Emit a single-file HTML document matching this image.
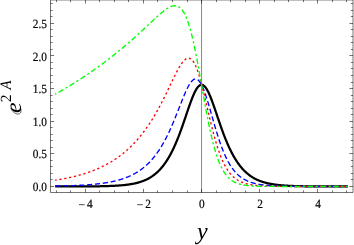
<!DOCTYPE html>
<html><head><meta charset="utf-8"><title>plot</title>
<style>
html,body{margin:0;padding:0;background:#fff;}
body{width:354px;height:245px;overflow:hidden;font-family:"Liberation Serif",serif;}
svg{display:block;will-change:transform;}
text{font-family:"Liberation Serif",serif;fill:#000;text-rendering:geometricPrecision;}
</style></head><body>
<svg width="354" height="245" viewBox="0 0 354 245">
<rect x="0" y="0" width="354" height="245" fill="#fff"/>

<line x1="201.55" y1="-0.05" x2="201.55" y2="192.5" stroke="#000" stroke-width="0.55" stroke-opacity="0.85"/>
<g fill="none" stroke-linejoin="round">
<path d="M55.18,186.49 L55.67,186.49 L56.16,186.49 L56.65,186.49 L57.14,186.49 L57.63,186.49 L58.11,186.49 L58.60,186.49 L59.09,186.49 L59.58,186.49 L60.07,186.49 L60.56,186.49 L61.05,186.49 L61.54,186.49 L62.02,186.48 L62.51,186.48 L63.00,186.48 L63.49,186.48 L63.98,186.48 L64.47,186.48 L64.96,186.48 L65.45,186.48 L65.93,186.48 L66.42,186.48 L66.91,186.48 L67.40,186.48 L67.89,186.48 L68.38,186.48 L68.87,186.47 L69.36,186.47 L69.84,186.47 L70.33,186.47 L70.82,186.47 L71.31,186.47 L71.80,186.47 L72.29,186.47 L72.78,186.47 L73.26,186.47 L73.75,186.46 L74.24,186.46 L74.73,186.46 L75.22,186.46 L75.71,186.46 L76.20,186.46 L76.69,186.46 L77.17,186.45 L77.66,186.45 L78.15,186.45 L78.64,186.45 L79.13,186.45 L79.62,186.44 L80.11,186.44 L80.60,186.44 L81.08,186.44 L81.57,186.44 L82.06,186.43 L82.55,186.43 L83.04,186.43 L83.53,186.43 L84.02,186.42 L84.50,186.42 L84.99,186.42 L85.48,186.41 L85.97,186.41 L86.46,186.41 L86.95,186.40 L87.44,186.40 L87.93,186.40 L88.41,186.39 L88.90,186.39 L89.39,186.39 L89.88,186.38 L90.37,186.38 L90.86,186.37 L91.35,186.37 L91.84,186.36 L92.32,186.36 L92.81,186.35 L93.30,186.35 L93.79,186.34 L94.28,186.34 L94.77,186.33 L95.26,186.32 L95.75,186.32 L96.23,186.31 L96.72,186.30 L97.21,186.30 L97.70,186.29 L98.19,186.28 L98.68,186.27 L99.17,186.27 L99.65,186.26 L100.14,186.25 L100.63,186.24 L101.12,186.23 L101.61,186.22 L102.10,186.21 L102.59,186.20 L103.08,186.19 L103.56,186.18 L104.05,186.17 L104.54,186.15 L105.03,186.14 L105.52,186.13 L106.01,186.11 L106.50,186.10 L106.99,186.09 L107.47,186.07 L107.96,186.05 L108.45,186.04 L108.94,186.02 L109.43,186.00 L109.92,185.99 L110.41,185.97 L110.90,185.95 L111.38,185.93 L111.87,185.91 L112.36,185.89 L112.85,185.86 L113.34,185.84 L113.83,185.82 L114.32,185.79 L114.80,185.77 L115.29,185.74 L115.78,185.71 L116.27,185.68 L116.76,185.65 L117.25,185.62 L117.74,185.59 L118.23,185.56 L118.71,185.52 L119.20,185.49 L119.69,185.45 L120.18,185.41 L120.67,185.37 L121.16,185.33 L121.65,185.29 L122.14,185.25 L122.62,185.20 L123.11,185.16 L123.60,185.11 L124.09,185.06 L124.58,185.01 L125.07,184.95 L125.56,184.90 L126.04,184.84 L126.53,184.78 L127.02,184.72 L127.51,184.66 L128.00,184.59 L128.49,184.52 L128.98,184.45 L129.47,184.38 L129.95,184.30 L130.44,184.22 L130.93,184.14 L131.42,184.06 L131.91,183.97 L132.40,183.88 L132.89,183.79 L133.38,183.70 L133.86,183.60 L134.35,183.49 L134.84,183.39 L135.33,183.28 L135.82,183.17 L136.31,183.05 L136.80,182.93 L137.29,182.80 L137.77,182.67 L138.26,182.54 L138.75,182.40 L139.24,182.26 L139.73,182.11 L140.22,181.96 L140.71,181.80 L141.19,181.64 L141.68,181.47 L142.17,181.30 L142.66,181.12 L143.15,180.93 L143.64,180.74 L144.13,180.54 L144.62,180.34 L145.10,180.13 L145.59,179.91 L146.08,179.69 L146.57,179.46 L147.06,179.22 L147.55,178.97 L148.04,178.72 L148.53,178.46 L149.01,178.19 L149.50,177.91 L149.99,177.63 L150.48,177.33 L150.97,177.03 L151.46,176.71 L151.95,176.39 L152.44,176.06 L152.92,175.71 L153.41,175.36 L153.90,175.00 L154.39,174.62 L154.88,174.23 L155.37,173.84 L155.86,173.43 L156.34,173.01 L156.83,172.57 L157.32,172.13 L157.81,171.67 L158.30,171.20 L158.79,170.72 L159.28,170.22 L159.77,169.71 L160.25,169.18 L160.74,168.64 L161.23,168.08 L161.72,167.51 L162.21,166.93 L162.70,166.33 L163.19,165.71 L163.68,165.07 L164.16,164.42 L164.65,163.76 L165.14,163.07 L165.63,162.37 L166.12,161.65 L166.61,160.91 L167.10,160.15 L167.58,159.38 L168.07,158.58 L168.56,157.77 L169.05,156.93 L169.54,156.08 L170.03,155.20 L170.52,154.31 L171.01,153.39 L171.49,152.46 L171.98,151.50 L172.47,150.52 L172.96,149.52 L173.45,148.50 L173.94,147.46 L174.43,146.39 L174.92,145.31 L175.40,144.20 L175.89,143.07 L176.38,141.92 L176.87,140.75 L177.36,139.55 L177.85,138.34 L178.34,137.10 L178.83,135.85 L179.31,134.57 L179.80,133.28 L180.29,131.96 L180.78,130.63 L181.27,129.29 L181.76,127.92 L182.25,126.54 L182.73,125.15 L183.22,123.74 L183.71,122.33 L184.20,120.90 L184.69,119.47 L185.18,118.03 L185.67,116.58 L186.16,115.13 L186.64,113.68 L187.13,112.24 L187.62,110.80 L188.11,109.37 L188.60,107.94 L189.09,106.53 L189.58,105.14 L190.07,103.76 L190.55,102.41 L191.04,101.08 L191.53,99.78 L192.02,98.52 L192.51,97.29 L193.00,96.09 L193.49,94.94 L193.98,93.84 L194.46,92.79 L194.95,91.78 L195.44,90.84 L195.93,89.95 L196.42,89.13 L196.91,88.37 L197.40,87.68 L197.88,87.06 L198.37,86.51 L198.86,86.03 L199.35,85.63 L199.84,85.31 L200.33,85.07 L200.82,84.91 L201.31,84.83 L201.79,84.83 L202.28,84.91 L202.77,85.07 L203.26,85.31 L203.75,85.63 L204.24,86.03 L204.73,86.51 L205.22,87.06 L205.70,87.68 L206.19,88.37 L206.68,89.13 L207.17,89.95 L207.66,90.84 L208.15,91.78 L208.64,92.79 L209.12,93.84 L209.61,94.94 L210.10,96.09 L210.59,97.29 L211.08,98.52 L211.57,99.78 L212.06,101.08 L212.55,102.41 L213.03,103.76 L213.52,105.14 L214.01,106.53 L214.50,107.94 L214.99,109.37 L215.48,110.80 L215.97,112.24 L216.46,113.68 L216.94,115.13 L217.43,116.58 L217.92,118.03 L218.41,119.47 L218.90,120.90 L219.39,122.33 L219.88,123.74 L220.37,125.15 L220.85,126.54 L221.34,127.92 L221.83,129.29 L222.32,130.63 L222.81,131.96 L223.30,133.28 L223.79,134.57 L224.27,135.85 L224.76,137.10 L225.25,138.34 L225.74,139.55 L226.23,140.75 L226.72,141.92 L227.21,143.07 L227.70,144.20 L228.18,145.31 L228.67,146.39 L229.16,147.46 L229.65,148.50 L230.14,149.52 L230.63,150.52 L231.12,151.50 L231.61,152.46 L232.09,153.39 L232.58,154.31 L233.07,155.20 L233.56,156.08 L234.05,156.93 L234.54,157.77 L235.03,158.58 L235.52,159.38 L236.00,160.15 L236.49,160.91 L236.98,161.65 L237.47,162.37 L237.96,163.07 L238.45,163.76 L238.94,164.42 L239.42,165.07 L239.91,165.71 L240.40,166.33 L240.89,166.93 L241.38,167.51 L241.87,168.08 L242.36,168.64 L242.85,169.18 L243.33,169.71 L243.82,170.22 L244.31,170.72 L244.80,171.20 L245.29,171.67 L245.78,172.13 L246.27,172.57 L246.76,173.01 L247.24,173.43 L247.73,173.84 L248.22,174.23 L248.71,174.62 L249.20,175.00 L249.69,175.36 L250.18,175.71 L250.66,176.06 L251.15,176.39 L251.64,176.71 L252.13,177.03 L252.62,177.33 L253.11,177.63 L253.60,177.91 L254.09,178.19 L254.57,178.46 L255.06,178.72 L255.55,178.97 L256.04,179.22 L256.53,179.46 L257.02,179.69 L257.51,179.91 L258.00,180.13 L258.48,180.34 L258.97,180.54 L259.46,180.74 L259.95,180.93 L260.44,181.12 L260.93,181.30 L261.42,181.47 L261.91,181.64 L262.39,181.80 L262.88,181.96 L263.37,182.11 L263.86,182.26 L264.35,182.40 L264.84,182.54 L265.33,182.67 L265.81,182.80 L266.30,182.93 L266.79,183.05 L267.28,183.17 L267.77,183.28 L268.26,183.39 L268.75,183.49 L269.24,183.60 L269.72,183.70 L270.21,183.79 L270.70,183.88 L271.19,183.97 L271.68,184.06 L272.17,184.14 L272.66,184.22 L273.15,184.30 L273.63,184.38 L274.12,184.45 L274.61,184.52 L275.10,184.59 L275.59,184.66 L276.08,184.72 L276.57,184.78 L277.06,184.84 L277.54,184.90 L278.03,184.95 L278.52,185.01 L279.01,185.06 L279.50,185.11 L279.99,185.16 L280.48,185.20 L280.96,185.25 L281.45,185.29 L281.94,185.33 L282.43,185.37 L282.92,185.41 L283.41,185.45 L283.90,185.49 L284.39,185.52 L284.87,185.56 L285.36,185.59 L285.85,185.62 L286.34,185.65 L286.83,185.68 L287.32,185.71 L287.81,185.74 L288.30,185.77 L288.78,185.79 L289.27,185.82 L289.76,185.84 L290.25,185.86 L290.74,185.89 L291.23,185.91 L291.72,185.93 L292.20,185.95 L292.69,185.97 L293.18,185.99 L293.67,186.00 L294.16,186.02 L294.65,186.04 L295.14,186.05 L295.63,186.07 L296.11,186.09 L296.60,186.10 L297.09,186.11 L297.58,186.13 L298.07,186.14 L298.56,186.15 L299.05,186.17 L299.54,186.18 L300.02,186.19 L300.51,186.20 L301.00,186.21 L301.49,186.22 L301.98,186.23 L302.47,186.24 L302.96,186.25 L303.45,186.26 L303.93,186.27 L304.42,186.27 L304.91,186.28 L305.40,186.29 L305.89,186.30 L306.38,186.30 L306.87,186.31 L307.35,186.32 L307.84,186.32 L308.33,186.33 L308.82,186.34 L309.31,186.34 L309.80,186.35 L310.29,186.35 L310.78,186.36 L311.26,186.36 L311.75,186.37 L312.24,186.37 L312.73,186.38 L313.22,186.38 L313.71,186.39 L314.20,186.39 L314.69,186.39 L315.17,186.40 L315.66,186.40 L316.15,186.40 L316.64,186.41 L317.13,186.41 L317.62,186.41 L318.11,186.42 L318.60,186.42 L319.08,186.42 L319.57,186.43 L320.06,186.43 L320.55,186.43 L321.04,186.43 L321.53,186.44 L322.02,186.44 L322.50,186.44 L322.99,186.44 L323.48,186.44 L323.97,186.45 L324.46,186.45 L324.95,186.45 L325.44,186.45 L325.93,186.45 L326.41,186.46 L326.90,186.46 L327.39,186.46 L327.88,186.46 L328.37,186.46 L328.86,186.46 L329.35,186.46 L329.84,186.47 L330.32,186.47 L330.81,186.47 L331.30,186.47 L331.79,186.47 L332.28,186.47 L332.77,186.47 L333.26,186.47 L333.74,186.47 L334.23,186.47 L334.72,186.48 L335.21,186.48 L335.70,186.48 L336.19,186.48 L336.68,186.48 L337.17,186.48 L337.65,186.48 L338.14,186.48 L338.63,186.48 L339.12,186.48 L339.61,186.48 L340.10,186.48 L340.59,186.48 L341.08,186.48 L341.56,186.49 L342.05,186.49 L342.54,186.49 L343.03,186.49 L343.52,186.49 L344.01,186.49 L344.50,186.49 L344.99,186.49 L345.47,186.49 L345.96,186.49 L346.45,186.49 L346.94,186.49 L347.43,186.49 L347.92,186.49" stroke="#000" stroke-width="2.25"/>
<path d="M55.18,186.09 L55.67,186.08 L56.16,186.07 L56.65,186.06 L57.14,186.05 L57.63,186.04 L58.11,186.03 L58.60,186.02 L59.09,186.01 L59.58,186.00 L60.07,185.99 L60.56,185.98 L61.05,185.97 L61.54,185.96 L62.02,185.95 L62.51,185.94 L63.00,185.92 L63.49,185.91 L63.98,185.90 L64.47,185.89 L64.96,185.87 L65.45,185.86 L65.93,185.85 L66.42,185.83 L66.91,185.82 L67.40,185.80 L67.89,185.79 L68.38,185.77 L68.87,185.76 L69.36,185.74 L69.84,185.72 L70.33,185.71 L70.82,185.69 L71.31,185.67 L71.80,185.66 L72.29,185.64 L72.78,185.62 L73.26,185.60 L73.75,185.58 L74.24,185.56 L74.73,185.54 L75.22,185.52 L75.71,185.50 L76.20,185.48 L76.69,185.46 L77.17,185.43 L77.66,185.41 L78.15,185.39 L78.64,185.36 L79.13,185.34 L79.62,185.31 L80.11,185.29 L80.60,185.26 L81.08,185.24 L81.57,185.21 L82.06,185.18 L82.55,185.15 L83.04,185.12 L83.53,185.09 L84.02,185.06 L84.50,185.03 L84.99,185.00 L85.48,184.97 L85.97,184.94 L86.46,184.90 L86.95,184.87 L87.44,184.83 L87.93,184.80 L88.41,184.76 L88.90,184.73 L89.39,184.69 L89.88,184.65 L90.37,184.61 L90.86,184.57 L91.35,184.53 L91.84,184.48 L92.32,184.44 L92.81,184.40 L93.30,184.35 L93.79,184.31 L94.28,184.26 L94.77,184.21 L95.26,184.16 L95.75,184.11 L96.23,184.06 L96.72,184.01 L97.21,183.95 L97.70,183.90 L98.19,183.84 L98.68,183.79 L99.17,183.73 L99.65,183.67 L100.14,183.61 L100.63,183.55 L101.12,183.48 L101.61,183.42 L102.10,183.35 L102.59,183.29 L103.08,183.22 L103.56,183.15 L104.05,183.08 L104.54,183.00 L105.03,182.93 L105.52,182.85 L106.01,182.77 L106.50,182.69 L106.99,182.61 L107.47,182.53 L107.96,182.44 L108.45,182.36 L108.94,182.27 L109.43,182.18 L109.92,182.08 L110.41,181.99 L110.90,181.89 L111.38,181.79 L111.87,181.69 L112.36,181.59 L112.85,181.49 L113.34,181.38 L113.83,181.27 L114.32,181.16 L114.80,181.04 L115.29,180.93 L115.78,180.81 L116.27,180.69 L116.76,180.56 L117.25,180.43 L117.74,180.30 L118.23,180.17 L118.71,180.04 L119.20,179.90 L119.69,179.76 L120.18,179.61 L120.67,179.47 L121.16,179.31 L121.65,179.16 L122.14,179.00 L122.62,178.84 L123.11,178.68 L123.60,178.51 L124.09,178.34 L124.58,178.17 L125.07,177.99 L125.56,177.81 L126.04,177.62 L126.53,177.43 L127.02,177.24 L127.51,177.04 L128.00,176.84 L128.49,176.64 L128.98,176.42 L129.47,176.21 L129.95,175.99 L130.44,175.77 L130.93,175.54 L131.42,175.30 L131.91,175.07 L132.40,174.82 L132.89,174.57 L133.38,174.32 L133.86,174.06 L134.35,173.79 L134.84,173.52 L135.33,173.25 L135.82,172.97 L136.31,172.68 L136.80,172.38 L137.29,172.08 L137.77,171.78 L138.26,171.47 L138.75,171.15 L139.24,170.82 L139.73,170.49 L140.22,170.15 L140.71,169.80 L141.19,169.45 L141.68,169.09 L142.17,168.72 L142.66,168.34 L143.15,167.96 L143.64,167.56 L144.13,167.16 L144.62,166.76 L145.10,166.34 L145.59,165.91 L146.08,165.48 L146.57,165.03 L147.06,164.58 L147.55,164.12 L148.04,163.65 L148.53,163.17 L149.01,162.68 L149.50,162.18 L149.99,161.67 L150.48,161.15 L150.97,160.62 L151.46,160.07 L151.95,159.52 L152.44,158.96 L152.92,158.38 L153.41,157.80 L153.90,157.20 L154.39,156.59 L154.88,155.97 L155.37,155.33 L155.86,154.69 L156.34,154.03 L156.83,153.36 L157.32,152.67 L157.81,151.98 L158.30,151.26 L158.79,150.54 L159.28,149.80 L159.77,149.05 L160.25,148.28 L160.74,147.51 L161.23,146.71 L161.72,145.90 L162.21,145.08 L162.70,144.24 L163.19,143.39 L163.68,142.52 L164.16,141.64 L164.65,140.74 L165.14,139.83 L165.63,138.90 L166.12,137.96 L166.61,137.00 L167.10,136.03 L167.58,135.04 L168.07,134.03 L168.56,133.01 L169.05,131.98 L169.54,130.93 L170.03,129.87 L170.52,128.79 L171.01,127.70 L171.49,126.59 L171.98,125.47 L172.47,124.33 L172.96,123.19 L173.45,122.03 L173.94,120.86 L174.43,119.67 L174.92,118.48 L175.40,117.28 L175.89,116.07 L176.38,114.85 L176.87,113.62 L177.36,112.38 L177.85,111.14 L178.34,109.90 L178.83,108.65 L179.31,107.40 L179.80,106.15 L180.29,104.91 L180.78,103.66 L181.27,102.42 L181.76,101.19 L182.25,99.96 L182.73,98.75 L183.22,97.55 L183.71,96.36 L184.20,95.19 L184.69,94.04 L185.18,92.91 L185.67,91.80 L186.16,90.72 L186.64,89.68 L187.13,88.66 L187.62,87.68 L188.11,86.73 L188.60,85.83 L189.09,84.97 L189.58,84.16 L190.07,83.40 L190.55,82.69 L191.04,82.03 L191.53,81.43 L192.02,80.89 L192.51,80.42 L193.00,80.01 L193.49,79.66 L193.98,79.39 L194.46,79.19 L194.95,79.06 L195.44,79.00 L195.93,79.02 L196.42,79.12 L196.91,79.29 L197.40,79.55 L197.88,79.88 L198.37,80.29 L198.86,80.78 L199.35,81.35 L199.84,82.00 L200.33,82.72 L200.82,83.52 L201.31,84.39 L201.79,85.33 L202.28,86.34 L202.77,87.42 L203.26,88.56 L203.75,89.76 L204.24,91.03 L204.73,92.35 L205.22,93.72 L205.70,95.13 L206.19,96.60 L206.68,98.11 L207.17,99.65 L207.66,101.23 L208.15,102.84 L208.64,104.47 L209.12,106.13 L209.61,107.81 L210.10,109.50 L210.59,111.21 L211.08,112.92 L211.57,114.64 L212.06,116.36 L212.55,118.08 L213.03,119.80 L213.52,121.51 L214.01,123.21 L214.50,124.89 L214.99,126.57 L215.48,128.22 L215.97,129.86 L216.46,131.48 L216.94,133.07 L217.43,134.65 L217.92,136.19 L218.41,137.71 L218.90,139.20 L219.39,140.67 L219.88,142.10 L220.37,143.51 L220.85,144.88 L221.34,146.22 L221.83,147.53 L222.32,148.81 L222.81,150.06 L223.30,151.28 L223.79,152.46 L224.27,153.61 L224.76,154.73 L225.25,155.82 L225.74,156.88 L226.23,157.91 L226.72,158.91 L227.21,159.88 L227.70,160.82 L228.18,161.73 L228.67,162.61 L229.16,163.46 L229.65,164.29 L230.14,165.09 L230.63,165.86 L231.12,166.61 L231.61,167.33 L232.09,168.03 L232.58,168.71 L233.07,169.36 L233.56,169.99 L234.05,170.60 L234.54,171.19 L235.03,171.76 L235.52,172.30 L236.00,172.83 L236.49,173.34 L236.98,173.83 L237.47,174.31 L237.96,174.77 L238.45,175.21 L238.94,175.63 L239.42,176.04 L239.91,176.43 L240.40,176.82 L240.89,177.18 L241.38,177.53 L241.87,177.87 L242.36,178.20 L242.85,178.52 L243.33,178.82 L243.82,179.11 L244.31,179.39 L244.80,179.66 L245.29,179.93 L245.78,180.18 L246.27,180.42 L246.76,180.65 L247.24,180.88 L247.73,181.09 L248.22,181.30 L248.71,181.50 L249.20,181.69 L249.69,181.87 L250.18,182.05 L250.66,182.22 L251.15,182.39 L251.64,182.55 L252.13,182.70 L252.62,182.84 L253.11,182.98 L253.60,183.12 L254.09,183.25 L254.57,183.38 L255.06,183.50 L255.55,183.61 L256.04,183.72 L256.53,183.83 L257.02,183.93 L257.51,184.03 L258.00,184.13 L258.48,184.22 L258.97,184.31 L259.46,184.39 L259.95,184.47 L260.44,184.55 L260.93,184.63 L261.42,184.70 L261.91,184.77 L262.39,184.84 L262.88,184.90 L263.37,184.96 L263.86,185.02 L264.35,185.08 L264.84,185.14 L265.33,185.19 L265.81,185.24 L266.30,185.29 L266.79,185.34 L267.28,185.38 L267.77,185.42 L268.26,185.47 L268.75,185.51 L269.24,185.54 L269.72,185.58 L270.21,185.62 L270.70,185.65 L271.19,185.68 L271.68,185.72 L272.17,185.75 L272.66,185.78 L273.15,185.80 L273.63,185.83 L274.12,185.86 L274.61,185.88 L275.10,185.91 L275.59,185.93 L276.08,185.95 L276.57,185.97 L277.06,185.99 L277.54,186.01 L278.03,186.03 L278.52,186.05 L279.01,186.07 L279.50,186.08 L279.99,186.10 L280.48,186.12 L280.96,186.13 L281.45,186.15 L281.94,186.16 L282.43,186.17 L282.92,186.19 L283.41,186.20 L283.90,186.21 L284.39,186.22 L284.87,186.23 L285.36,186.24 L285.85,186.25 L286.34,186.26 L286.83,186.27 L287.32,186.28 L287.81,186.29 L288.30,186.30 L288.78,186.30 L289.27,186.31 L289.76,186.32 L290.25,186.33 L290.74,186.33 L291.23,186.34 L291.72,186.35 L292.20,186.35 L292.69,186.36 L293.18,186.36 L293.67,186.37 L294.16,186.37 L294.65,186.38 L295.14,186.38 L295.63,186.39 L296.11,186.39 L296.60,186.40 L297.09,186.40 L297.58,186.40 L298.07,186.41 L298.56,186.41 L299.05,186.42 L299.54,186.42 L300.02,186.42 L300.51,186.42 L301.00,186.43 L301.49,186.43 L301.98,186.43 L302.47,186.44 L302.96,186.44 L303.45,186.44 L303.93,186.44 L304.42,186.45 L304.91,186.45 L305.40,186.45 L305.89,186.45 L306.38,186.45 L306.87,186.46 L307.35,186.46 L307.84,186.46 L308.33,186.46 L308.82,186.46 L309.31,186.46 L309.80,186.46 L310.29,186.47 L310.78,186.47 L311.26,186.47 L311.75,186.47 L312.24,186.47 L312.73,186.47 L313.22,186.47 L313.71,186.47 L314.20,186.48 L314.69,186.48 L315.17,186.48 L315.66,186.48 L316.15,186.48 L316.64,186.48 L317.13,186.48 L317.62,186.48 L318.11,186.48 L318.60,186.48 L319.08,186.48 L319.57,186.48 L320.06,186.48 L320.55,186.49 L321.04,186.49 L321.53,186.49 L322.02,186.49 L322.50,186.49 L322.99,186.49 L323.48,186.49 L323.97,186.49 L324.46,186.49 L324.95,186.49 L325.44,186.49 L325.93,186.49 L326.41,186.49 L326.90,186.49 L327.39,186.49 L327.88,186.49 L328.37,186.49 L328.86,186.49 L329.35,186.49 L329.84,186.49 L330.32,186.49 L330.81,186.49 L331.30,186.49 L331.79,186.49 L332.28,186.49 L332.77,186.49 L333.26,186.49 L333.74,186.49 L334.23,186.50 L334.72,186.50 L335.21,186.50 L335.70,186.50 L336.19,186.50 L336.68,186.50 L337.17,186.50 L337.65,186.50 L338.14,186.50 L338.63,186.50 L339.12,186.50 L339.61,186.50 L340.10,186.50 L340.59,186.50 L341.08,186.50 L341.56,186.50 L342.05,186.50 L342.54,186.50 L343.03,186.50 L343.52,186.50 L344.01,186.50 L344.50,186.50 L344.99,186.50 L345.47,186.50 L345.96,186.50 L346.45,186.50 L346.94,186.50 L347.43,186.50 L347.92,186.50" stroke="#0000ff" stroke-width="1.35" stroke-dasharray="5.2 2.75" stroke-dashoffset="0"/>
<path d="M55.18,180.22 L55.67,180.14 L56.16,180.06 L56.65,179.99 L57.14,179.91 L57.63,179.83 L58.11,179.75 L58.60,179.67 L59.09,179.59 L59.58,179.50 L60.07,179.42 L60.56,179.33 L61.05,179.25 L61.54,179.16 L62.02,179.07 L62.51,178.98 L63.00,178.89 L63.49,178.80 L63.98,178.71 L64.47,178.61 L64.96,178.52 L65.45,178.42 L65.93,178.33 L66.42,178.23 L66.91,178.13 L67.40,178.03 L67.89,177.93 L68.38,177.82 L68.87,177.72 L69.36,177.61 L69.84,177.51 L70.33,177.40 L70.82,177.29 L71.31,177.18 L71.80,177.07 L72.29,176.95 L72.78,176.84 L73.26,176.72 L73.75,176.60 L74.24,176.49 L74.73,176.36 L75.22,176.24 L75.71,176.12 L76.20,175.99 L76.69,175.87 L77.17,175.74 L77.66,175.61 L78.15,175.48 L78.64,175.35 L79.13,175.21 L79.62,175.08 L80.11,174.94 L80.60,174.80 L81.08,174.66 L81.57,174.52 L82.06,174.37 L82.55,174.23 L83.04,174.08 L83.53,173.93 L84.02,173.78 L84.50,173.63 L84.99,173.47 L85.48,173.32 L85.97,173.16 L86.46,173.00 L86.95,172.84 L87.44,172.67 L87.93,172.50 L88.41,172.34 L88.90,172.17 L89.39,171.99 L89.88,171.82 L90.37,171.64 L90.86,171.46 L91.35,171.28 L91.84,171.10 L92.32,170.92 L92.81,170.73 L93.30,170.54 L93.79,170.35 L94.28,170.15 L94.77,169.96 L95.26,169.76 L95.75,169.56 L96.23,169.35 L96.72,169.15 L97.21,168.94 L97.70,168.73 L98.19,168.51 L98.68,168.30 L99.17,168.08 L99.65,167.86 L100.14,167.63 L100.63,167.41 L101.12,167.18 L101.61,166.94 L102.10,166.71 L102.59,166.47 L103.08,166.23 L103.56,165.99 L104.05,165.74 L104.54,165.49 L105.03,165.24 L105.52,164.98 L106.01,164.72 L106.50,164.46 L106.99,164.20 L107.47,163.93 L107.96,163.66 L108.45,163.38 L108.94,163.10 L109.43,162.82 L109.92,162.54 L110.41,162.25 L110.90,161.96 L111.38,161.66 L111.87,161.37 L112.36,161.06 L112.85,160.76 L113.34,160.45 L113.83,160.14 L114.32,159.82 L114.80,159.50 L115.29,159.17 L115.78,158.85 L116.27,158.51 L116.76,158.18 L117.25,157.84 L117.74,157.49 L118.23,157.14 L118.71,156.79 L119.20,156.43 L119.69,156.07 L120.18,155.71 L120.67,155.34 L121.16,154.96 L121.65,154.58 L122.14,154.20 L122.62,153.81 L123.11,153.42 L123.60,153.02 L124.09,152.62 L124.58,152.21 L125.07,151.80 L125.56,151.38 L126.04,150.96 L126.53,150.54 L127.02,150.10 L127.51,149.67 L128.00,149.22 L128.49,148.78 L128.98,148.32 L129.47,147.87 L129.95,147.40 L130.44,146.93 L130.93,146.46 L131.42,145.98 L131.91,145.49 L132.40,145.00 L132.89,144.50 L133.38,144.00 L133.86,143.49 L134.35,142.97 L134.84,142.45 L135.33,141.92 L135.82,141.39 L136.31,140.85 L136.80,140.30 L137.29,139.75 L137.77,139.19 L138.26,138.62 L138.75,138.05 L139.24,137.47 L139.73,136.88 L140.22,136.29 L140.71,135.69 L141.19,135.08 L141.68,134.46 L142.17,133.84 L142.66,133.21 L143.15,132.58 L143.64,131.93 L144.13,131.28 L144.62,130.62 L145.10,129.96 L145.59,129.28 L146.08,128.60 L146.57,127.91 L147.06,127.22 L147.55,126.51 L148.04,125.80 L148.53,125.08 L149.01,124.35 L149.50,123.61 L149.99,122.87 L150.48,122.11 L150.97,121.35 L151.46,120.58 L151.95,119.80 L152.44,119.02 L152.92,118.22 L153.41,117.42 L153.90,116.61 L154.39,115.79 L154.88,114.96 L155.37,114.12 L155.86,113.27 L156.34,112.42 L156.83,111.56 L157.32,110.69 L157.81,109.81 L158.30,108.92 L158.79,108.03 L159.28,107.12 L159.77,106.21 L160.25,105.29 L160.74,104.36 L161.23,103.43 L161.72,102.48 L162.21,101.53 L162.70,100.58 L163.19,99.61 L163.68,98.64 L164.16,97.66 L164.65,96.68 L165.14,95.69 L165.63,94.70 L166.12,93.70 L166.61,92.69 L167.10,91.68 L167.58,90.67 L168.07,89.65 L168.56,88.63 L169.05,87.61 L169.54,86.58 L170.03,85.56 L170.52,84.53 L171.01,83.51 L171.49,82.48 L171.98,81.46 L172.47,80.44 L172.96,79.43 L173.45,78.42 L173.94,77.41 L174.43,76.42 L174.92,75.43 L175.40,74.45 L175.89,73.48 L176.38,72.53 L176.87,71.59 L177.36,70.66 L177.85,69.75 L178.34,68.87 L178.83,68.00 L179.31,67.15 L179.80,66.33 L180.29,65.53 L180.78,64.77 L181.27,64.03 L181.76,63.32 L182.25,62.65 L182.73,62.02 L183.22,61.43 L183.71,60.88 L184.20,60.37 L184.69,59.91 L185.18,59.49 L185.67,59.13 L186.16,58.82 L186.64,58.56 L187.13,58.36 L187.62,58.23 L188.11,58.15 L188.60,58.14 L189.09,58.19 L189.58,58.31 L190.07,58.50 L190.55,58.77 L191.04,59.10 L191.53,59.51 L192.02,59.99 L192.51,60.55 L193.00,61.18 L193.49,61.89 L193.98,62.68 L194.46,63.54 L194.95,64.48 L195.44,65.50 L195.93,66.59 L196.42,67.76 L196.91,69.00 L197.40,70.31 L197.88,71.69 L198.37,73.14 L198.86,74.65 L199.35,76.23 L199.84,77.87 L200.33,79.56 L200.82,81.31 L201.31,83.11 L201.79,84.95 L202.28,86.84 L202.77,88.77 L203.26,90.73 L203.75,92.73 L204.24,94.75 L204.73,96.80 L205.22,98.87 L205.70,100.95 L206.19,103.05 L206.68,105.15 L207.17,107.26 L207.66,109.36 L208.15,111.47 L208.64,113.56 L209.12,115.65 L209.61,117.72 L210.10,119.78 L210.59,121.81 L211.08,123.82 L211.57,125.81 L212.06,127.77 L212.55,129.70 L213.03,131.60 L213.52,133.46 L214.01,135.29 L214.50,137.08 L214.99,138.83 L215.48,140.54 L215.97,142.22 L216.46,143.85 L216.94,145.44 L217.43,146.99 L217.92,148.50 L218.41,149.96 L218.90,151.38 L219.39,152.76 L219.88,154.10 L220.37,155.39 L220.85,156.64 L221.34,157.86 L221.83,159.03 L222.32,160.16 L222.81,161.25 L223.30,162.30 L223.79,163.32 L224.27,164.30 L224.76,165.24 L225.25,166.15 L225.74,167.02 L226.23,167.86 L226.72,168.67 L227.21,169.44 L227.70,170.19 L228.18,170.90 L228.67,171.59 L229.16,172.24 L229.65,172.87 L230.14,173.48 L230.63,174.06 L231.12,174.61 L231.61,175.15 L232.09,175.66 L232.58,176.14 L233.07,176.61 L233.56,177.06 L234.05,177.48 L234.54,177.89 L235.03,178.28 L235.52,178.66 L236.00,179.02 L236.49,179.36 L236.98,179.68 L237.47,180.00 L237.96,180.29 L238.45,180.58 L238.94,180.85 L239.42,181.11 L239.91,181.36 L240.40,181.60 L240.89,181.82 L241.38,182.04 L241.87,182.24 L242.36,182.44 L242.85,182.63 L243.33,182.81 L243.82,182.98 L244.31,183.14 L244.80,183.30 L245.29,183.45 L245.78,183.59 L246.27,183.72 L246.76,183.85 L247.24,183.98 L247.73,184.09 L248.22,184.21 L248.71,184.31 L249.20,184.41 L249.69,184.51 L250.18,184.60 L250.66,184.69 L251.15,184.78 L251.64,184.86 L252.13,184.93 L252.62,185.01 L253.11,185.08 L253.60,185.14 L254.09,185.21 L254.57,185.27 L255.06,185.32 L255.55,185.38 L256.04,185.43 L256.53,185.48 L257.02,185.53 L257.51,185.57 L258.00,185.62 L258.48,185.66 L258.97,185.70 L259.46,185.74 L259.95,185.77 L260.44,185.81 L260.93,185.84 L261.42,185.87 L261.91,185.90 L262.39,185.93 L262.88,185.95 L263.37,185.98 L263.86,186.00 L264.35,186.03 L264.84,186.05 L265.33,186.07 L265.81,186.09 L266.30,186.11 L266.79,186.13 L267.28,186.14 L267.77,186.16 L268.26,186.18 L268.75,186.19 L269.24,186.21 L269.72,186.22 L270.21,186.23 L270.70,186.25 L271.19,186.26 L271.68,186.27 L272.17,186.28 L272.66,186.29 L273.15,186.30 L273.63,186.31 L274.12,186.32 L274.61,186.33 L275.10,186.34 L275.59,186.34 L276.08,186.35 L276.57,186.36 L277.06,186.36 L277.54,186.37 L278.03,186.38 L278.52,186.38 L279.01,186.39 L279.50,186.39 L279.99,186.40 L280.48,186.40 L280.96,186.41 L281.45,186.41 L281.94,186.42 L282.43,186.42 L282.92,186.42 L283.41,186.43 L283.90,186.43 L284.39,186.43 L284.87,186.44 L285.36,186.44 L285.85,186.44 L286.34,186.45 L286.83,186.45 L287.32,186.45 L287.81,186.45 L288.30,186.45 L288.78,186.46 L289.27,186.46 L289.76,186.46 L290.25,186.46 L290.74,186.46 L291.23,186.47 L291.72,186.47 L292.20,186.47 L292.69,186.47 L293.18,186.47 L293.67,186.47 L294.16,186.47 L294.65,186.48 L295.14,186.48 L295.63,186.48 L296.11,186.48 L296.60,186.48 L297.09,186.48 L297.58,186.48 L298.07,186.48 L298.56,186.48 L299.05,186.48 L299.54,186.49 L300.02,186.49 L300.51,186.49 L301.00,186.49 L301.49,186.49 L301.98,186.49 L302.47,186.49 L302.96,186.49 L303.45,186.49 L303.93,186.49 L304.42,186.49 L304.91,186.49 L305.40,186.49 L305.89,186.49 L306.38,186.49 L306.87,186.49 L307.35,186.49 L307.84,186.49 L308.33,186.49 L308.82,186.49 L309.31,186.49 L309.80,186.49 L310.29,186.49 L310.78,186.50 L311.26,186.50 L311.75,186.50 L312.24,186.50 L312.73,186.50 L313.22,186.50 L313.71,186.50 L314.20,186.50 L314.69,186.50 L315.17,186.50 L315.66,186.50 L316.15,186.50 L316.64,186.50 L317.13,186.50 L317.62,186.50 L318.11,186.50 L318.60,186.50 L319.08,186.50 L319.57,186.50 L320.06,186.50 L320.55,186.50 L321.04,186.50 L321.53,186.50 L322.02,186.50 L322.50,186.50 L322.99,186.50 L323.48,186.50 L323.97,186.50 L324.46,186.50 L324.95,186.50 L325.44,186.50 L325.93,186.50 L326.41,186.50 L326.90,186.50 L327.39,186.50 L327.88,186.50 L328.37,186.50 L328.86,186.50 L329.35,186.50 L329.84,186.50 L330.32,186.50 L330.81,186.50 L331.30,186.50 L331.79,186.50 L332.28,186.50 L332.77,186.50 L333.26,186.50 L333.74,186.50 L334.23,186.50 L334.72,186.50 L335.21,186.50 L335.70,186.50 L336.19,186.50 L336.68,186.50 L337.17,186.50 L337.65,186.50 L338.14,186.50 L338.63,186.50 L339.12,186.50 L339.61,186.50 L340.10,186.50 L340.59,186.50 L341.08,186.50 L341.56,186.50 L342.05,186.50 L342.54,186.50 L343.03,186.50 L343.52,186.50 L344.01,186.50 L344.50,186.50 L344.99,186.50 L345.47,186.50 L345.96,186.50 L346.45,186.50 L346.94,186.50 L347.43,186.50 L347.92,186.50" stroke="#ff0000" stroke-width="1.35" stroke-dasharray="2.25 2.68" stroke-dashoffset="0.7"/>
<path d="M55.18,94.23 L55.67,93.96 L56.16,93.68 L56.65,93.41 L57.14,93.14 L57.63,92.86 L58.11,92.58 L58.60,92.30 L59.09,92.03 L59.58,91.75 L60.07,91.47 L60.56,91.19 L61.05,90.90 L61.54,90.62 L62.02,90.34 L62.51,90.05 L63.00,89.77 L63.49,89.48 L63.98,89.20 L64.47,88.91 L64.96,88.62 L65.45,88.33 L65.93,88.04 L66.42,87.75 L66.91,87.46 L67.40,87.17 L67.89,86.87 L68.38,86.58 L68.87,86.28 L69.36,85.99 L69.84,85.69 L70.33,85.39 L70.82,85.09 L71.31,84.79 L71.80,84.49 L72.29,84.19 L72.78,83.89 L73.26,83.58 L73.75,83.28 L74.24,82.98 L74.73,82.67 L75.22,82.36 L75.71,82.05 L76.20,81.75 L76.69,81.44 L77.17,81.13 L77.66,80.81 L78.15,80.50 L78.64,80.19 L79.13,79.87 L79.62,79.56 L80.11,79.24 L80.60,78.93 L81.08,78.61 L81.57,78.29 L82.06,77.97 L82.55,77.65 L83.04,77.33 L83.53,77.00 L84.02,76.68 L84.50,76.36 L84.99,76.03 L85.48,75.70 L85.97,75.38 L86.46,75.05 L86.95,74.72 L87.44,74.39 L87.93,74.06 L88.41,73.73 L88.90,73.39 L89.39,73.06 L89.88,72.72 L90.37,72.39 L90.86,72.05 L91.35,71.71 L91.84,71.37 L92.32,71.03 L92.81,70.69 L93.30,70.35 L93.79,70.00 L94.28,69.66 L94.77,69.31 L95.26,68.97 L95.75,68.62 L96.23,68.27 L96.72,67.92 L97.21,67.57 L97.70,67.22 L98.19,66.87 L98.68,66.52 L99.17,66.16 L99.65,65.81 L100.14,65.45 L100.63,65.09 L101.12,64.73 L101.61,64.37 L102.10,64.01 L102.59,63.65 L103.08,63.29 L103.56,62.92 L104.05,62.56 L104.54,62.19 L105.03,61.82 L105.52,61.46 L106.01,61.09 L106.50,60.72 L106.99,60.34 L107.47,59.97 L107.96,59.60 L108.45,59.22 L108.94,58.85 L109.43,58.47 L109.92,58.09 L110.41,57.71 L110.90,57.33 L111.38,56.95 L111.87,56.57 L112.36,56.18 L112.85,55.80 L113.34,55.41 L113.83,55.02 L114.32,54.64 L114.80,54.25 L115.29,53.86 L115.78,53.46 L116.27,53.07 L116.76,52.68 L117.25,52.28 L117.74,51.89 L118.23,51.49 L118.71,51.09 L119.20,50.69 L119.69,50.29 L120.18,49.89 L120.67,49.48 L121.16,49.08 L121.65,48.67 L122.14,48.27 L122.62,47.86 L123.11,47.45 L123.60,47.04 L124.09,46.63 L124.58,46.22 L125.07,45.80 L125.56,45.39 L126.04,44.97 L126.53,44.55 L127.02,44.14 L127.51,43.72 L128.00,43.30 L128.49,42.87 L128.98,42.45 L129.47,42.03 L129.95,41.60 L130.44,41.17 L130.93,40.75 L131.42,40.32 L131.91,39.89 L132.40,39.46 L132.89,39.02 L133.38,38.59 L133.86,38.16 L134.35,37.72 L134.84,37.28 L135.33,36.85 L135.82,36.41 L136.31,35.97 L136.80,35.52 L137.29,35.08 L137.77,34.64 L138.26,34.19 L138.75,33.75 L139.24,33.30 L139.73,32.86 L140.22,32.41 L140.71,31.96 L141.19,31.51 L141.68,31.06 L142.17,30.61 L142.66,30.15 L143.15,29.70 L143.64,29.24 L144.13,28.79 L144.62,28.33 L145.10,27.88 L145.59,27.42 L146.08,26.96 L146.57,26.50 L147.06,26.05 L147.55,25.59 L148.04,25.13 L148.53,24.67 L149.01,24.21 L149.50,23.75 L149.99,23.29 L150.48,22.83 L150.97,22.37 L151.46,21.91 L151.95,21.45 L152.44,20.99 L152.92,20.54 L153.41,20.08 L153.90,19.62 L154.39,19.17 L154.88,18.71 L155.37,18.26 L155.86,17.81 L156.34,17.36 L156.83,16.91 L157.32,16.47 L157.81,16.03 L158.30,15.59 L158.79,15.15 L159.28,14.72 L159.77,14.29 L160.25,13.86 L160.74,13.44 L161.23,13.03 L161.72,12.62 L162.21,12.21 L162.70,11.81 L163.19,11.42 L163.68,11.03 L164.16,10.65 L164.65,10.28 L165.14,9.92 L165.63,9.56 L166.12,9.22 L166.61,8.89 L167.10,8.57 L167.58,8.26 L168.07,7.96 L168.56,7.68 L169.05,7.41 L169.54,7.15 L170.03,6.92 L170.52,6.70 L171.01,6.50 L171.49,6.32 L171.98,6.16 L172.47,6.02 L172.96,5.90 L173.45,5.81 L173.94,5.75 L174.43,5.71 L174.92,5.71 L175.40,5.73 L175.89,5.78 L176.38,5.87 L176.87,5.99 L177.36,6.15 L177.85,6.35 L178.34,6.58 L178.83,6.86 L179.31,7.19 L179.80,7.55 L180.29,7.97 L180.78,8.43 L181.27,8.95 L181.76,9.52 L182.25,10.14 L182.73,10.81 L183.22,11.55 L183.71,12.35 L184.20,13.20 L184.69,14.12 L185.18,15.10 L185.67,16.15 L186.16,17.26 L186.64,18.45 L187.13,19.70 L187.62,21.02 L188.11,22.41 L188.60,23.87 L189.09,25.40 L189.58,27.01 L190.07,28.68 L190.55,30.43 L191.04,32.25 L191.53,34.14 L192.02,36.09 L192.51,38.12 L193.00,40.21 L193.49,42.36 L193.98,44.58 L194.46,46.86 L194.95,49.19 L195.44,51.59 L195.93,54.03 L196.42,56.53 L196.91,59.07 L197.40,61.65 L197.88,64.27 L198.37,66.93 L198.86,69.62 L199.35,72.33 L199.84,75.07 L200.33,77.83 L200.82,80.60 L201.31,83.38 L201.79,86.17 L202.28,88.95 L202.77,91.74 L203.26,94.51 L203.75,97.28 L204.24,100.02 L204.73,102.75 L205.22,105.45 L205.70,108.12 L206.19,110.77 L206.68,113.37 L207.17,115.94 L207.66,118.47 L208.15,120.96 L208.64,123.39 L209.12,125.78 L209.61,128.12 L210.10,130.41 L210.59,132.64 L211.08,134.81 L211.57,136.93 L212.06,138.99 L212.55,141.00 L213.03,142.94 L213.52,144.82 L214.01,146.65 L214.50,148.41 L214.99,150.12 L215.48,151.77 L215.97,153.35 L216.46,154.89 L216.94,156.36 L217.43,157.78 L217.92,159.14 L218.41,160.45 L218.90,161.71 L219.39,162.92 L219.88,164.07 L220.37,165.18 L220.85,166.24 L221.34,167.25 L221.83,168.22 L222.32,169.14 L222.81,170.02 L223.30,170.86 L223.79,171.67 L224.27,172.43 L224.76,173.16 L225.25,173.86 L225.74,174.52 L226.23,175.15 L226.72,175.74 L227.21,176.31 L227.70,176.85 L228.18,177.37 L228.67,177.85 L229.16,178.32 L229.65,178.75 L230.14,179.17 L230.63,179.57 L231.12,179.94 L231.61,180.30 L232.09,180.63 L232.58,180.95 L233.07,181.25 L233.56,181.54 L234.05,181.81 L234.54,182.07 L235.03,182.31 L235.52,182.54 L236.00,182.76 L236.49,182.96 L236.98,183.16 L237.47,183.34 L237.96,183.52 L238.45,183.68 L238.94,183.84 L239.42,183.98 L239.91,184.12 L240.40,184.26 L240.89,184.38 L241.38,184.50 L241.87,184.61 L242.36,184.71 L242.85,184.81 L243.33,184.91 L243.82,185.00 L244.31,185.08 L244.80,185.16 L245.29,185.23 L245.78,185.30 L246.27,185.37 L246.76,185.43 L247.24,185.49 L247.73,185.55 L248.22,185.60 L248.71,185.65 L249.20,185.70 L249.69,185.74 L250.18,185.79 L250.66,185.83 L251.15,185.86 L251.64,185.90 L252.13,185.93 L252.62,185.97 L253.11,186.00 L253.60,186.02 L254.09,186.05 L254.57,186.08 L255.06,186.10 L255.55,186.12 L256.04,186.14 L256.53,186.16 L257.02,186.18 L257.51,186.20 L258.00,186.22 L258.48,186.23 L258.97,186.25 L259.46,186.26 L259.95,186.27 L260.44,186.29 L260.93,186.30 L261.42,186.31 L261.91,186.32 L262.39,186.33 L262.88,186.34 L263.37,186.35 L263.86,186.36 L264.35,186.37 L264.84,186.37 L265.33,186.38 L265.81,186.39 L266.30,186.39 L266.79,186.40 L267.28,186.41 L267.77,186.41 L268.26,186.42 L268.75,186.42 L269.24,186.42 L269.72,186.43 L270.21,186.43 L270.70,186.44 L271.19,186.44 L271.68,186.44 L272.17,186.45 L272.66,186.45 L273.15,186.45 L273.63,186.46 L274.12,186.46 L274.61,186.46 L275.10,186.46 L275.59,186.46 L276.08,186.47 L276.57,186.47 L277.06,186.47 L277.54,186.47 L278.03,186.47 L278.52,186.47 L279.01,186.48 L279.50,186.48 L279.99,186.48 L280.48,186.48 L280.96,186.48 L281.45,186.48 L281.94,186.48 L282.43,186.48 L282.92,186.49 L283.41,186.49 L283.90,186.49 L284.39,186.49 L284.87,186.49 L285.36,186.49 L285.85,186.49 L286.34,186.49 L286.83,186.49 L287.32,186.49 L287.81,186.49 L288.30,186.49 L288.78,186.49 L289.27,186.49 L289.76,186.49 L290.25,186.49 L290.74,186.49 L291.23,186.49 L291.72,186.49 L292.20,186.50 L292.69,186.50 L293.18,186.50 L293.67,186.50 L294.16,186.50 L294.65,186.50 L295.14,186.50 L295.63,186.50 L296.11,186.50 L296.60,186.50 L297.09,186.50 L297.58,186.50 L298.07,186.50 L298.56,186.50 L299.05,186.50 L299.54,186.50 L300.02,186.50 L300.51,186.50 L301.00,186.50 L301.49,186.50 L301.98,186.50 L302.47,186.50 L302.96,186.50 L303.45,186.50 L303.93,186.50 L304.42,186.50 L304.91,186.50 L305.40,186.50 L305.89,186.50 L306.38,186.50 L306.87,186.50 L307.35,186.50 L307.84,186.50 L308.33,186.50 L308.82,186.50 L309.31,186.50 L309.80,186.50 L310.29,186.50 L310.78,186.50 L311.26,186.50 L311.75,186.50 L312.24,186.50 L312.73,186.50 L313.22,186.50 L313.71,186.50 L314.20,186.50 L314.69,186.50 L315.17,186.50 L315.66,186.50 L316.15,186.50 L316.64,186.50 L317.13,186.50 L317.62,186.50 L318.11,186.50 L318.60,186.50 L319.08,186.50 L319.57,186.50 L320.06,186.50 L320.55,186.50 L321.04,186.50 L321.53,186.50 L322.02,186.50 L322.50,186.50 L322.99,186.50 L323.48,186.50 L323.97,186.50 L324.46,186.50 L324.95,186.50 L325.44,186.50 L325.93,186.50 L326.41,186.50 L326.90,186.50 L327.39,186.50 L327.88,186.50 L328.37,186.50 L328.86,186.50 L329.35,186.50 L329.84,186.50 L330.32,186.50 L330.81,186.50 L331.30,186.50 L331.79,186.50 L332.28,186.50 L332.77,186.50 L333.26,186.50 L333.74,186.50 L334.23,186.50 L334.72,186.50 L335.21,186.50 L335.70,186.50 L336.19,186.50 L336.68,186.50 L337.17,186.50 L337.65,186.50 L338.14,186.50 L338.63,186.50 L339.12,186.50 L339.61,186.50 L340.10,186.50 L340.59,186.50 L341.08,186.50 L341.56,186.50 L342.05,186.50 L342.54,186.50 L343.03,186.50 L343.52,186.50 L344.01,186.50 L344.50,186.50 L344.99,186.50 L345.47,186.50 L345.96,186.50 L346.45,186.50 L346.94,186.50 L347.43,186.50 L347.92,186.50" stroke="#00ff00" stroke-width="1.35" stroke-dasharray="2.2 2.6 5.4 2.65" stroke-dashoffset="0.9"/>
</g>
<path d="M50.5,-0.05 H353.0 V192.5 H50.5 Z M56.50,192.5 v-2.1 M56.50,-0.05 v2.1 M70.50,192.5 v-2.1 M70.50,-0.05 v2.1 M85.50,192.5 v-3.6 M85.50,-0.05 v3.6 M99.50,192.5 v-2.1 M99.50,-0.05 v2.1 M114.50,192.5 v-2.1 M114.50,-0.05 v2.1 M128.50,192.5 v-2.1 M128.50,-0.05 v2.1 M143.50,192.5 v-3.6 M143.50,-0.05 v3.6 M157.50,192.5 v-2.1 M157.50,-0.05 v2.1 M172.50,192.5 v-2.1 M172.50,-0.05 v2.1 M187.50,192.5 v-2.1 M187.50,-0.05 v2.1 M201.50,192.5 v-3.6 M201.50,-0.05 v3.6 M216.50,192.5 v-2.1 M216.50,-0.05 v2.1 M230.50,192.5 v-2.1 M230.50,-0.05 v2.1 M245.50,192.5 v-2.1 M245.50,-0.05 v2.1 M259.50,192.5 v-3.6 M259.50,-0.05 v3.6 M274.50,192.5 v-2.1 M274.50,-0.05 v2.1 M288.50,192.5 v-2.1 M288.50,-0.05 v2.1 M303.50,192.5 v-2.1 M303.50,-0.05 v2.1 M317.50,192.5 v-3.6 M317.50,-0.05 v3.6 M332.50,192.5 v-2.1 M332.50,-0.05 v2.1 M346.50,192.5 v-2.1 M346.50,-0.05 v2.1 M50.5,186.50 h3.6 M353.0,186.50 h-3.6 M50.5,179.50 h2.1 M353.0,179.50 h-2.1 M50.5,173.50 h2.1 M353.0,173.50 h-2.1 M50.5,166.50 h2.1 M353.0,166.50 h-2.1 M50.5,160.50 h2.1 M353.0,160.50 h-2.1 M50.5,153.50 h3.6 M353.0,153.50 h-3.6 M50.5,147.50 h2.1 M353.0,147.50 h-2.1 M50.5,140.50 h2.1 M353.0,140.50 h-2.1 M50.5,134.50 h2.1 M353.0,134.50 h-2.1 M50.5,127.50 h2.1 M353.0,127.50 h-2.1 M50.5,121.50 h3.6 M353.0,121.50 h-3.6 M50.5,114.50 h2.1 M353.0,114.50 h-2.1 M50.5,108.50 h2.1 M353.0,108.50 h-2.1 M50.5,101.50 h2.1 M353.0,101.50 h-2.1 M50.5,95.50 h2.1 M353.0,95.50 h-2.1 M50.5,88.50 h3.6 M353.0,88.50 h-3.6 M50.5,82.50 h2.1 M353.0,82.50 h-2.1 M50.5,75.50 h2.1 M353.0,75.50 h-2.1 M50.5,68.50 h2.1 M353.0,68.50 h-2.1 M50.5,62.50 h2.1 M353.0,62.50 h-2.1 M50.5,55.50 h3.6 M353.0,55.50 h-3.6 M50.5,49.50 h2.1 M353.0,49.50 h-2.1 M50.5,42.50 h2.1 M353.0,42.50 h-2.1 M50.5,36.50 h2.1 M353.0,36.50 h-2.1 M50.5,29.50 h2.1 M353.0,29.50 h-2.1 M50.5,23.50 h3.6 M353.0,23.50 h-3.6 M50.5,16.50 h2.1 M353.0,16.50 h-2.1 M50.5,10.50 h2.1 M353.0,10.50 h-2.1 M50.5,3.50 h2.1 M353.0,3.50 h-2.1" fill="none" stroke="#000" stroke-width="0.55"/>
<g font-size="12.6px" stroke="#000" stroke-width="0.2">
<line x1="78.97" y1="204.7" x2="84.67" y2="204.7" stroke="#000" stroke-width="0.7"/>
<text transform="translate(89.87,208) scale(0.9,1)" text-anchor="middle">4</text>
<line x1="137.11" y1="204.7" x2="142.81" y2="204.7" stroke="#000" stroke-width="0.7"/>
<text transform="translate(148.01,208) scale(0.9,1)" text-anchor="middle">2</text>
<text transform="translate(201.85,208) scale(0.9,1)" text-anchor="middle">0</text>
<text transform="translate(259.99,208) scale(0.9,1)" text-anchor="middle">2</text>
<text transform="translate(318.13,208) scale(0.9,1)" text-anchor="middle">4</text>
<text transform="translate(46.9,191.10) scale(0.9,1)" text-anchor="end">0.0</text>
<text transform="translate(46.9,158.45) scale(0.9,1)" text-anchor="end">0.5</text>
<text transform="translate(46.9,125.80) scale(0.9,1)" text-anchor="end">1.0</text>
<text transform="translate(46.9,93.15) scale(0.9,1)" text-anchor="end">1.5</text>
<text transform="translate(46.9,60.50) scale(0.9,1)" text-anchor="end">2.0</text>
<text transform="translate(46.9,27.85) scale(0.9,1)" text-anchor="end">2.5</text>
</g>
<text x="202.3" y="238.8" font-size="24px" font-style="italic" text-anchor="middle">y</text>
<g transform="translate(20.9,114.3) rotate(-90)"><g transform="translate(1.3,0) scale(0.011719,-0.010781)"><path d="M863 760Q863 624 695.0 528.0Q527 432 244 413L240 340Q240 213 293.5 148.5Q347 84 452 84Q542 84 618.0 114.5Q694 145 760 184L789 142Q697 64 594.5 22.0Q492 -20 400 -20Q238 -20 150.5 70.5Q63 161 63 330Q63 497 133.5 641.5Q204 786 329.0 875.5Q454 965 591 965Q714 965 788.5 908.5Q863 852 863 760ZM252 476Q450 491 569.0 569.0Q688 647 688 760Q688 816 657.5 852.0Q627 888 569 888Q499 888 433.0 831.0Q367 774 319.0 678.0Q271 582 252 476Z" fill="#000"/><path d="M430 940Q300 900 160 780Q-30 600 -90 330Q-120 120 20 30Q120 -30 330 -15" fill="none" stroke="#000" stroke-width="55"/></g><text x="12.0" y="-10.2" font-size="15.5px">2</text><text transform="translate(24.9,-10.2) scale(0.92,1)" font-size="16px" font-style="italic">A</text></g>
</svg></body></html>
